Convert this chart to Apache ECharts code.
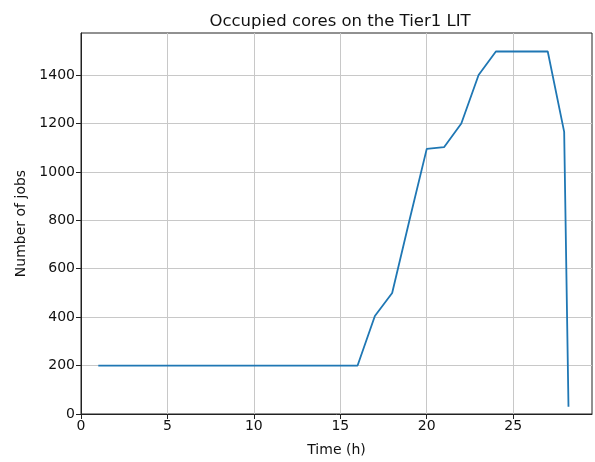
<!DOCTYPE html>
<html><head><meta charset="utf-8">
<script src="https://cdn.jsdelivr.net/npm/echarts@6/dist/echarts.min.js"></script>
<style>html,body{margin:0;padding:0;background:#fff}#c{width:595px;height:462px}</style>
</head><body><div id="c"></div>
<script>
const hours = [1,2,3,4,5,6,7,8,9,10,11,12,13,14,15,16,17,18,19,20,21,22,23,24,25,26,27,27.95,28.2];
const jobs  = [200,200,200,200,200,200,200,200,200,200,200,200,200,200,200,200,405,500,800,1095,1102,1200,1400,1497,1497,1497,1497,1165,30];
const xTicks = [0,5,10,15,20,25];
const yTicks = [0,200,400,600,800,1000,1200,1400];

const font = 'DejaVu Sans';
const chart = echarts.init(document.getElementById('c'), null, {renderer:'canvas'});
chart.setOption({
  animation:false,
  title:{text:'Occupied cores on the Tier1 LIT', left:335, top:8, textAlign:'center',
    textStyle:{fontFamily:font, fontSize:16.5, fontWeight:'normal', color:'#111'}},
  grid:{left:81, right:3, top:33, bottom:47, show:true, borderColor:'#222', borderWidth:1, backgroundColor:'#fff'},
  xAxis:{type:'value', min:0, max:29.56,
    name:'Time (h)', nameLocation:'middle', nameGap:29,
    nameTextStyle:{fontFamily:font, fontSize:14, color:'#111'},
    axisLine:{show:true, onZero:false, lineStyle:{color:'#222', width:1}},
    axisTick:{show:true, inside:false, length:5, customValues:xTicks, lineStyle:{color:'#222'}},
    axisLabel:{customValues:xTicks, formatter:v=>String(v), fontFamily:font, fontSize:14, color:'#111', margin:5},
    splitLine:{show:true, lineStyle:{color:'#c8c8c8', width:1}}
  },
  yAxis:{type:'value', min:0, max:1573.5,
    name:'Number of jobs', nameLocation:'middle', nameGap:52, nameRotate:90,
    nameTextStyle:{fontFamily:font, fontSize:14, color:'#111'},
    axisLine:{show:true, onZero:false, lineStyle:{color:'#222', width:1}},
    axisTick:{show:true, inside:false, length:5, customValues:yTicks, lineStyle:{color:'#222'}},
    axisLabel:{customValues:yTicks, formatter:v=>String(v), fontFamily:font, fontSize:14, color:'#111', margin:6},
    splitLine:{show:true, lineStyle:{color:'#c8c8c8', width:1}}
  },
  series:[{type:'line', data:hours.map((h,i)=>[h,jobs[i]]), showSymbol:false, symbol:'none',
    lineStyle:{color:'#1f77b4', width:1.8}}]
});
</script></body></html>
